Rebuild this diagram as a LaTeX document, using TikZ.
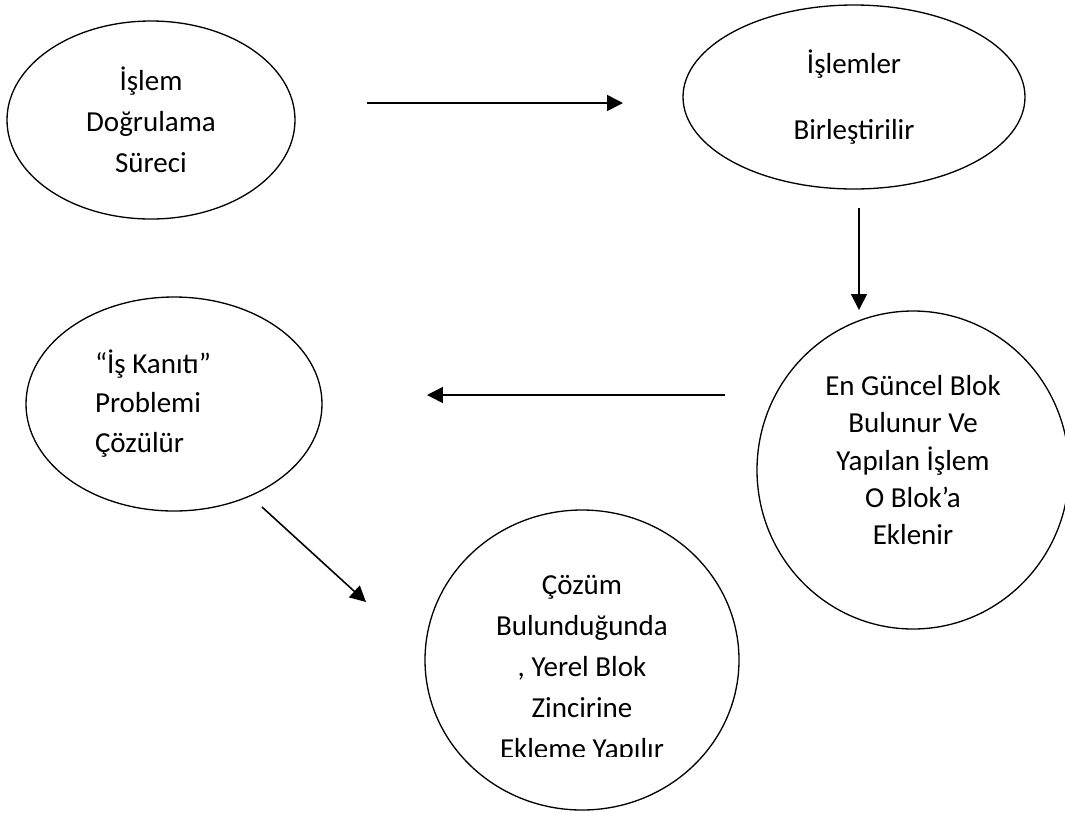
\documentclass[tikz,border=0pt]{standalone}
\usepackage{fontspec}
\setmainfont{Carlito}
\usetikzlibrary{shapes.geometric, arrows.meta}

\begin{document}
\begin{tikzpicture}[
  bubble/.style={ellipse, draw, line width=0.75pt, inner sep=0pt, align=center, font=\fontsize{16.5}{23.3}\selectfont},
  arrow/.style={-{Triangle[length=9pt, width=9pt]}, line width=0.9pt},
  caption/.style={inner sep=0pt, align=center, font=\fontsize{16.5}{23.3}\selectfont}
]
\useasboundingbox (0,0) rectangle (21.3,-16.24);

\node[bubble, minimum width=5.76cm, minimum height=3.96cm] (n1) at (3.02,-2.40) {İşlem\\Doğrulama\\Süreci};
\node[bubble, minimum width=6.84cm, minimum height=3.68cm, font=\fontsize{16.5}{38}\selectfont] (n2) at (17.08,-1.94) {İşlemler\\Birleştirilir};
\node[bubble, minimum width=6.24cm, minimum height=6.36cm, font=\fontsize{16.5}{21.3}\selectfont] (n3) at (18.26,-9.40) {En Güncel Blok\\Bulunur Ve\\Yapılan İşlem\\O Blok’a\\Eklenir\rule[-0.4cm]{0pt}{0pt}};
\node[bubble, minimum width=5.92cm, minimum height=4.28cm, align=left, font=\fontsize{16.5}{22.5}\selectfont] (n4) at (3.48,-8.08) {“İş Kanıtı”\hspace*{0.84cm}\\Problemi\\Çözülür\rule[-0.12cm]{0pt}{0pt}};
\node[bubble, minimum width=6.28cm, minimum height=6.00cm] (n5) at (11.64,-13.20) {};

% last line is cut off at the bottom
\begin{scope}
  \clip (8.6,-10.0) rectangle (14.7,-15.12);
  \node[caption] (t5) at (11.64,-13.38) {Çözüm\\Bulunduğunda\\, Yerel Blok\\Zincirine\\Ekleme Yapılır};
\end{scope}

\coordinate (a1s) at (7.34,-2.06);
\coordinate (a1e) at (12.46,-2.06);
\coordinate (a2s) at (17.18,-4.16);
\coordinate (a2e) at (17.18,-6.20);
\coordinate (a3s) at (14.50,-7.90);
\coordinate (a3e) at (8.54,-7.90);
\coordinate (a4s) at (5.24,-10.14);
\coordinate (a4e) at (7.32,-12.04);

\draw[arrow] (a1s) -- (a1e);
\draw[arrow] (a2s) -- (a2e);
\draw[arrow] (a3s) -- (a3e);
\draw[arrow] (a4s) -- (a4e);
\end{tikzpicture}
\end{document}
